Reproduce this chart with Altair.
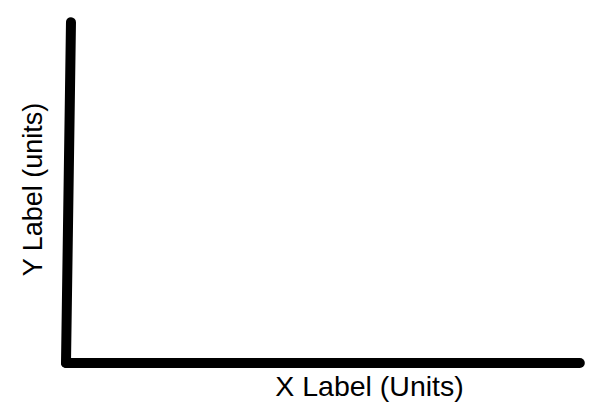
import altair as alt
import pandas as pd

# Two hand-drawn axis strokes (data units 0..100 on both axes)
segments = ["y_axis", "x_axis"]
x_start = [0.96, 0.0]
y_start = [98.8, 0.0]
x_end = [0.0, 99.0]
y_end = [0.0, 0.0]

x_title = "X Label (Units)"
y_title = "Y Label (units)"

df = pd.DataFrame({"seg": segments, "x": x_start, "y": y_start, "x2": x_end, "y2": y_end})

font = "Liberation Sans"

chart = alt.Chart(df).mark_rule(
    color="black", strokeWidth=10, strokeCap="round"
).encode(
    x=alt.X("x:Q", scale=alt.Scale(domain=[0, 100], nice=False, zero=False),
            axis=alt.Axis(title=x_title, domain=False, ticks=False, labels=False, grid=False,
                          titleFont=font, titleFontSize=28.5, titleFontWeight="normal",
                          titleColor="black", titleX=303, titleY=32, titleBaseline="alphabetic",
                          titleAlign="center")),
    y=alt.Y("y:Q", scale=alt.Scale(domain=[0, 100], nice=False, zero=False),
            axis=alt.Axis(title=y_title, domain=False, ticks=False, labels=False, grid=False,
                          titleFont=font, titleFontSize=27, titleFontWeight="normal",
                          titleColor="black", titleX=-25, titleY=171, titleBaseline="alphabetic",
                          titleAlign="center", titleAngle=270)),
    x2="x2:Q",
    y2="y2:Q",
).properties(
    width=519, height=345,
    autosize=alt.AutoSizeParams(type="none"),
    padding={"left": 58, "top": 10, "right": 0, "bottom": 39},
).configure_view(stroke=None)

chart.save("out.html", embed_options={"renderer": "svg", "actions": False})
